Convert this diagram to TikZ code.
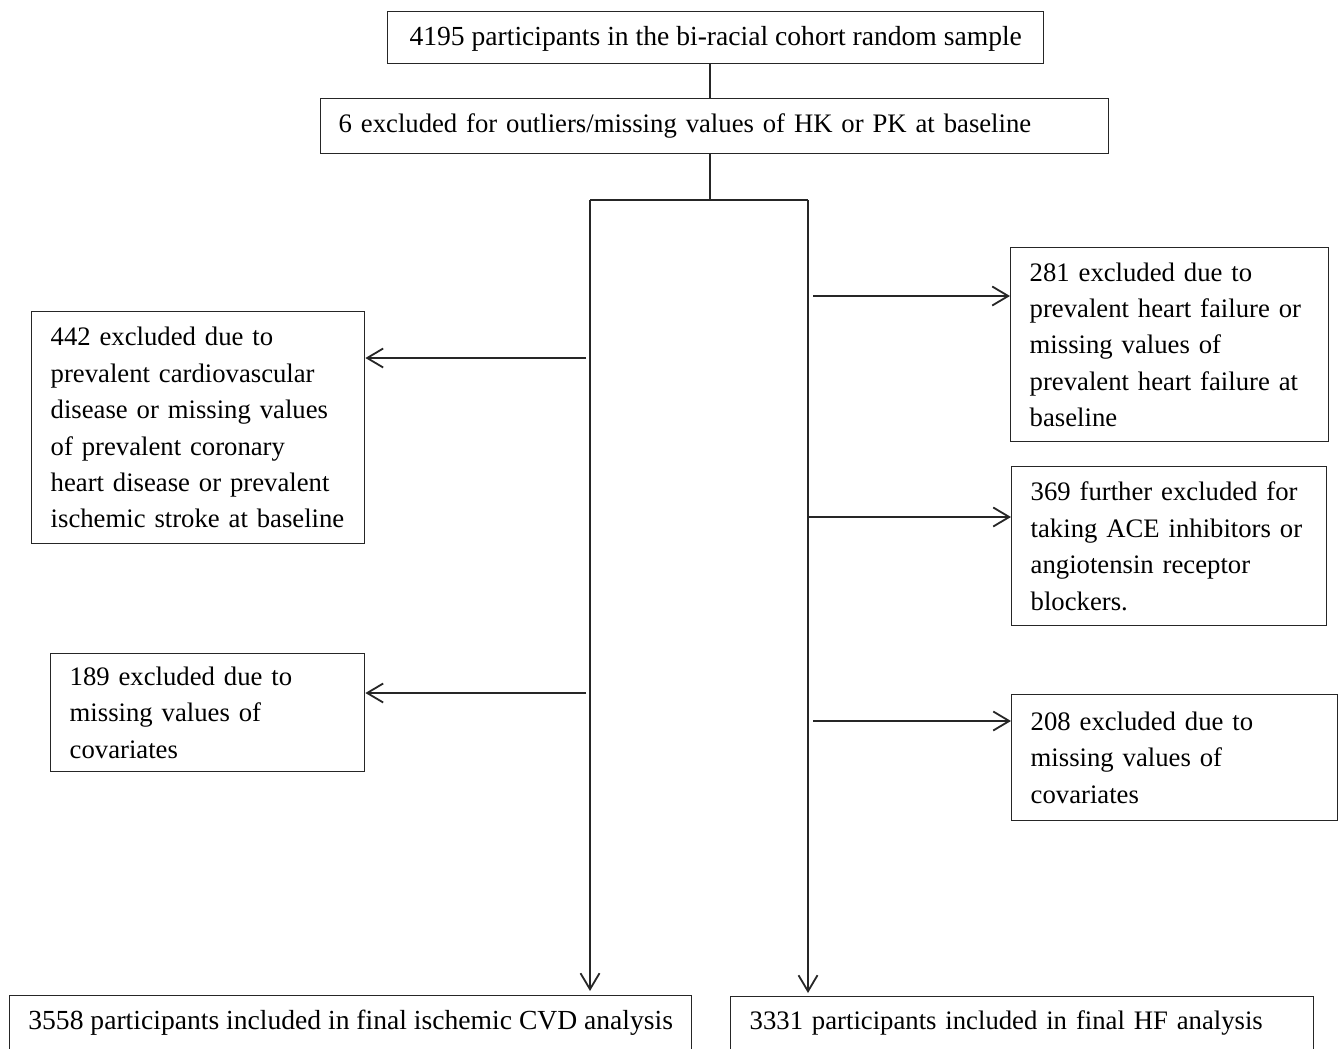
\documentclass[tikz,border=0pt]{standalone}
\usepackage{fontspec}
\setmainfont{Liberation Serif}
\usetikzlibrary{arrows.meta}
\tikzset{
  box/.style={draw=black!85, line width=1.4pt, anchor=north west, inner ysep=0pt,
    font=\fontsize{26.7}{36.4}\selectfont, align=left},
  bigtext/.style={font=\fontsize{27.6}{36.4}\selectfont},
  conn/.style={draw=black!85, line width=1.8pt},
  arr/.style={conn, -{Straight Barb[length=16pt,width=19pt,line width=1.8pt]}}
}
\begin{document}
\begin{tikzpicture}[x=1pt,y=-1pt]
\useasboundingbox (0,0) rectangle (1342,1049);
\clip (0,0) rectangle (1342,1049);
\fill[white] (0,0) rectangle (1342,1049);
% boxes
\node[box, bigtext, align=center, inner xsep=0pt, inner ysep=0pt, text height=22pt, text depth=6pt, minimum width=656, minimum height=52] (t) at (387,11)
  {4195 participants in the bi-racial cohort random sample};
\node[box, inner xsep=18pt, text width=752pt, minimum height=55] (s) at (320,98)
  {6 excluded for outliers/missing values of HK or PK at baseline};
\node[box, inner xsep=19pt, text width=295pt, minimum height=232] (b1) at (31,311)
  {442 excluded due to\\ prevalent cardiovascular\\ disease or missing values\\ of prevalent coronary\\ heart disease or prevalent\\ ischemic stroke at baseline};
\node[box, inner xsep=19pt, text width=276pt, minimum height=118] (b2) at (50,653)
  {189 excluded due to\\ missing values of\\ covariates};
\node[box, inner xsep=19pt, text width=280pt, minimum height=194] (r1) at (1010,247)
  {281 excluded due to\\ prevalent heart failure or\\ missing values of\\ prevalent heart failure at\\ baseline};
\node[box, inner xsep=19pt, text width=277pt, minimum height=159] (r2) at (1011,466)
  {369 further excluded for\\ taking ACE inhibitors or\\ angiotensin receptor\\ blockers.};
\node[box, inner xsep=19pt, text width=288pt, minimum height=126] (r3) at (1011,694)
  {208 excluded due to\\ missing values of\\ covariates};
\node[box, bigtext, align=center, inner xsep=0pt, inner ysep=13pt, text height=21pt, text depth=9pt, minimum width=682] (cvd) at (9,995)
  {3558 participants included in final ischemic CVD analysis};
\node[box, inner xsep=19pt, inner ysep=13pt, text height=20pt, text depth=10pt, text width=545pt] (hf) at (730,996)
  {3331 participants included in final HF analysis};
% connectors
\coordinate (split) at (710,200);
\coordinate (L) at (590,200);
\coordinate (R) at (808,200);
\draw[conn] (split |- t.south) -- (split |- s.north);
\draw[conn] (split |- s.south) -- (split);
\draw[conn] (L) -- (R);
\draw[arr, shorten >=4pt] (L) -- (L |- cvd.north);
\draw[arr, shorten >=3pt] (R) -- (R |- hf.north);
\coordinate (a1) at (586,358);
\coordinate (a2) at (586,693);
\coordinate (a3) at (813,296);
\coordinate (a4) at (808,517);
\coordinate (a5) at (813,721);
\draw[arr] (a1) -- (a1 -| b1.east);
\draw[arr] (a2) -- (a2 -| b2.east);
\draw[arr] (a3) -- (a3 -| r1.west);
\draw[arr] (a4) -- (a4 -| r2.west);
\draw[arr] (a5) -- (a5 -| r3.west);
\end{tikzpicture}
\end{document}
